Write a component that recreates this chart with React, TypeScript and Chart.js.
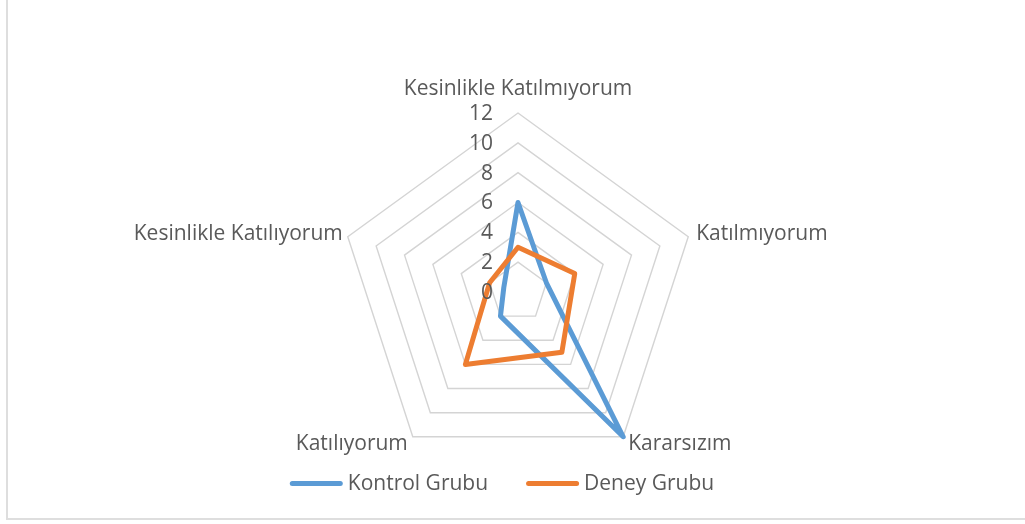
import React, { useEffect, useRef } from "react";
import { Chart, registerables } from "chart.js";

Chart.register(...registerables);

const categories = [
  "Kesinlikle Katılmıyorum",
  "Katılmıyorum",
  "Kararsızım",
  "Katılıyorum",
  "Kesinlikle Katılıyorum",
];
const kontrolValues = [6, 2, 12, 2, 1];
const deneyValues = [3, 4, 5, 6, 2];
const seriesNames = ["Kontrol Grubu", "Deney Grubu"];
const seriesColors = ["#5B9BD5", "#ED7D31"];
const tickValues = [0, 2, 4, 6, 8, 10, 12];

const FONT = "21px 'Open Sans'";
const TEXT = "#595959";

const labelPlugin = {
  id: "customLabels",
  afterDraw(chart: any) {
    const scale = chart.scales.r;
    const ctx = chart.ctx;
    ctx.save();
    ctx.font = FONT;
    ctx.fillStyle = TEXT;
    ctx.textBaseline = "middle";
    // tick labels
    ctx.textAlign = "right";
    tickValues.forEach((v) => {
      const d = scale.getDistanceFromCenterForValue(v);
      ctx.fillText(String(v), scale.xCenter - 25, scale.yCenter - d + 1);
    });
    // point labels
    const labels: string[] = chart.data.labels;
    labels.forEach((lab, i) => {
      const pos = scale.getPointPosition(i, scale.drawingArea);
      const a = scale.getIndexAngle(i) - Math.PI / 2;
      const c = Math.cos(a);
      const s = Math.sin(a);
      let x = pos.x;
      let y = pos.y;
      if (Math.abs(c) < 0.1) {
        ctx.textAlign = "center";
        y = pos.y - 24;
      } else if (c > 0) {
        ctx.textAlign = "left";
        x = pos.x + (s > 0.5 ? 5 : 8);
        y = pos.y + (s > 0 ? 7 : -3);
      } else {
        ctx.textAlign = "right";
        x = pos.x - 5;
        y = pos.y + (s > 0 ? 7 : -3);
      }
      ctx.fillText(lab, x, y);
    });
    // legend
    const lineLen = 53;
    const gapText = 5;
    const gapItems = 38;
    const widths = chart.data.datasets.map((ds: any) => ctx.measureText(ds.label).width);
    const total =
      widths.reduce((p: number, w: number) => p + w, 0) +
      chart.data.datasets.length * (lineLen + gapText) +
      gapItems * (chart.data.datasets.length - 1);
    let lx = 502 - total / 2;
    const ly = 484;
    ctx.textAlign = "left";
    chart.data.datasets.forEach((ds: any, i: number) => {
      ctx.strokeStyle = ds.borderColor;
      ctx.lineWidth = 5;
      ctx.lineCap = "round";
      ctx.beginPath();
      ctx.moveTo(lx + 2.5, ly - 0.5);
      ctx.lineTo(lx + lineLen - 2.5, ly - 0.5);
      ctx.stroke();
      ctx.fillStyle = TEXT;
      ctx.fillText(ds.label, lx + lineLen + gapText, ly);
      lx += lineLen + gapText + widths[i] + gapItems;
    });
    ctx.restore();
  },
};

export default function App() {
  const canvasRef = useRef<HTMLCanvasElement | null>(null);

  useEffect(() => {
    if (!canvasRef.current) return;
    const chart = new Chart(canvasRef.current, {
      type: "radar",
      data: {
        labels: categories,
        datasets: [
          {
            label: seriesNames[0],
            data: kontrolValues,
            borderColor: seriesColors[0],
            backgroundColor: "transparent",
            borderWidth: 5,
            pointRadius: 0,
            fill: false,
            borderJoinStyle: "round",
            order: 1,
          },
          {
            label: seriesNames[1],
            data: deneyValues,
            borderColor: seriesColors[1],
            backgroundColor: "transparent",
            borderWidth: 5,
            pointRadius: 0,
            fill: false,
            borderJoinStyle: "round",
            order: 0,
          },
        ],
      },
      options: {
        animation: false,
        responsive: false,
        devicePixelRatio: 1,
        layout: { padding: { top: 113, bottom: 53, left: 11, right: 0 } },
        plugins: {
          legend: { display: false },
          tooltip: { enabled: false },
        },
        scales: {
          r: {
            min: 0,
            max: 12,
            ticks: { stepSize: 2, display: false },
            pointLabels: { display: false },
            angleLines: { display: false },
            grid: { color: "#d4d4d4", lineWidth: 1.4 },
          },
        },
      },
      plugins: [labelPlugin],
    });
    return () => chart.destroy();
  }, []);

  return (
    <div
      style={{
        position: "absolute",
        left: 0,
        top: 0,
        width: 1025,
        height: 524,
        overflow: "hidden",
        background: "#ffffff",
      }}
    >
      <div
        style={{
          position: "absolute",
          left: 6,
          top: -4,
          width: 1040,
          height: 524,
          boxSizing: "border-box",
          border: "2px solid #dedede",
        }}
      />
      <canvas
        ref={canvasRef}
        width={1025}
        height={524}
        style={{ position: "absolute", left: 0, top: 0, width: 1025, height: 524 }}
      />
    </div>
  );
}
